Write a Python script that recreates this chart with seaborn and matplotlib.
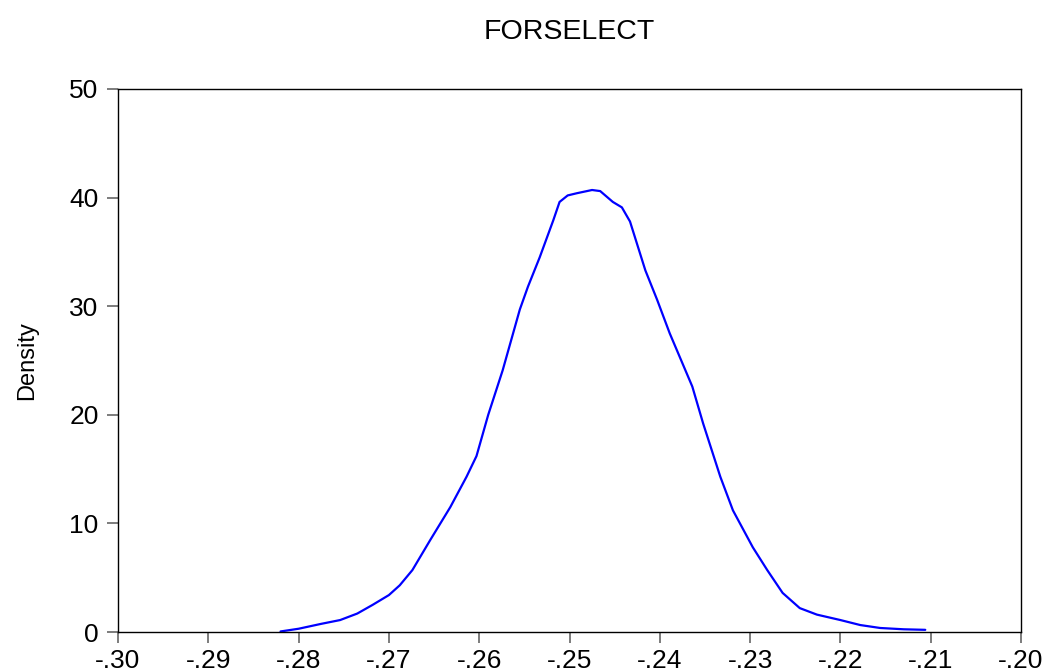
import matplotlib
matplotlib.use("Agg")
import matplotlib.pyplot as plt
import seaborn as sns
import pandas as pd

# Kernel density estimate
x_vals = [-0.2820, -0.2800, -0.2775, -0.2754, -0.2735, -0.2718, -0.2700, -0.2688,
          -0.2674, -0.2654, -0.2632, -0.2614, -0.2603, -0.2590, -0.2574, -0.2555,
          -0.2546, -0.2533, -0.2518, -0.2511, -0.2502, -0.2492, -0.2475, -0.2466,
          -0.2452, -0.2442, -0.2433, -0.2416, -0.2403, -0.2389, -0.2364, -0.2352,
          -0.2333, -0.2319, -0.2297, -0.2281, -0.2264, -0.2245, -0.2226, -0.2200,
          -0.2178, -0.2156, -0.2130, -0.2106]
density = [0.05, 0.3, 0.75, 1.1, 1.7, 2.5, 3.4, 4.3,
           5.7, 8.5, 11.5, 14.3, 16.2, 20.0, 24.1, 29.7,
           31.8, 34.5, 37.9, 39.6, 40.2, 40.4, 40.7, 40.6,
           39.6, 39.1, 37.8, 33.3, 30.6, 27.5, 22.6, 19.2,
           14.3, 11.2, 7.8, 5.7, 3.6, 2.2, 1.6, 1.1,
           0.64, 0.37, 0.25, 0.2]

x_ticks = [-0.30, -0.29, -0.28, -0.27, -0.26, -0.25, -0.24, -0.23, -0.22, -0.21, -0.20]
x_tick_labels = ['-.30', '-.29', '-.28', '-.27', '-.26', '-.25', '-.24', '-.23', '-.22', '-.21', '-.20']
y_ticks = [0, 10, 20, 30, 40, 50]
y_tick_labels = ['0', '10', '20', '30', '40', '50']
title = "FORSELECT"
y_label = "Density"

sns.set_style("white")
plt.rcParams['font.family'] = ['Liberation Sans', 'DejaVu Sans']
plt.rcParams['text.color'] = 'black'
plt.rcParams['axes.labelcolor'] = 'black'

df = pd.DataFrame({"x": x_vals, "Density": density})

fig = plt.figure(figsize=(10.45, 6.69), dpi=100)
ax = fig.add_axes([118 / 1045, 37 / 669, 903 / 1045, 543 / 669])

sns.lineplot(data=df, x="x", y="Density", ax=ax, color=(0, 0, 1), linewidth=1.6)

ax.set_xlim(-0.30, -0.20)
ax.set_ylim(0, 50)
ax.set_xticks(x_ticks)
ax.set_xticklabels(x_tick_labels)
ax.set_yticks(y_ticks)
ax.set_yticklabels(y_tick_labels)

ax.tick_params(axis='both', direction='out', length=8, width=1.2, color='#666666',
               labelsize=19, labelcolor='black')
ax.tick_params(axis='x', pad=4)
ax.tick_params(axis='y', pad=6)
ax.xaxis.set_ticks_position('bottom')
ax.yaxis.set_ticks_position('left')

for s in ax.spines.values():
    s.set_visible(True)
    s.set_color('black')
    s.set_linewidth(1.0)

ax.set_xlabel("")
ax.set_ylabel(y_label, fontsize=17, labelpad=22, color='black')
ax.set_title(title, fontsize=20.5, pad=36, color='black')
ax.grid(False)

fig.savefig("out.png", dpi=100, facecolor='white')
